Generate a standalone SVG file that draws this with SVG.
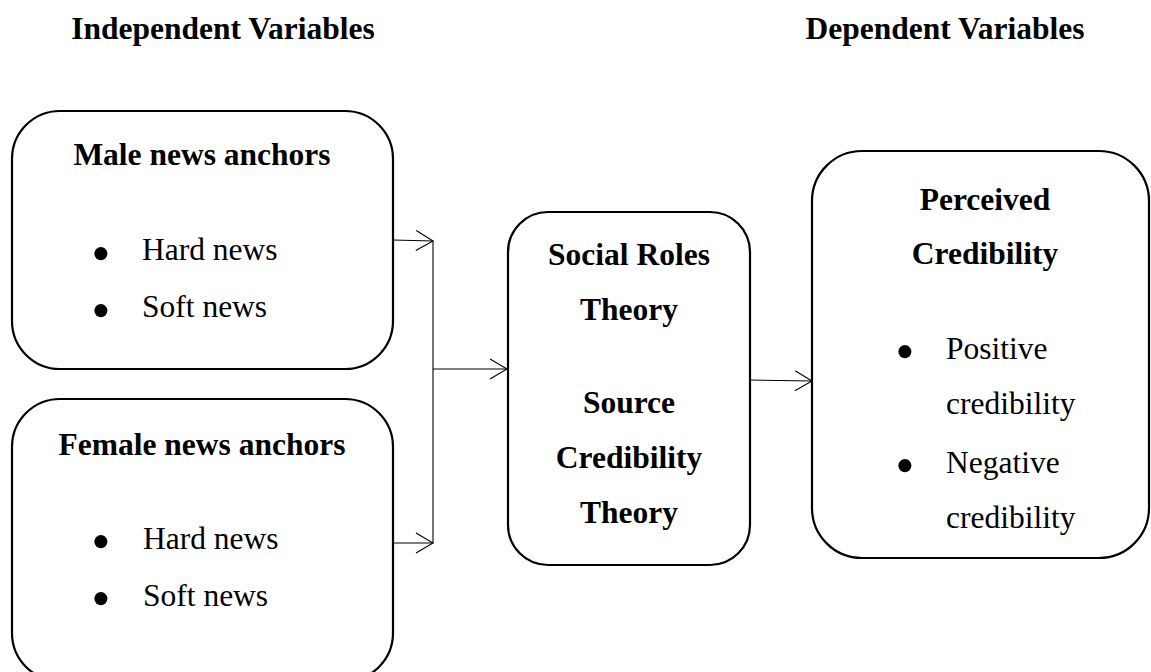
<svg xmlns="http://www.w3.org/2000/svg" width="1151" height="672" viewBox="0 0 1151 672">
<defs>
<marker id="arr" markerWidth="20" markerHeight="22" refX="18" refY="11" orient="auto" markerUnits="userSpaceOnUse">
<path d="M1,1 L18,11 L1,21" fill="none" stroke="#000" stroke-width="1.1"/>
</marker>
<style>
.box{fill:#fff;stroke:#000;stroke-width:2.2}
.con{fill:none;stroke:#000;stroke-width:1.1}
.b{font-family:"Liberation Serif","Times New Roman",serif;font-weight:bold;font-size:31.5px;fill:#000}
.r{font-family:"Liberation Serif","Times New Roman",serif;font-size:31.5px;fill:#000}
.bl{font-family:"Liberation Serif","Times New Roman",serif;font-size:55px;fill:#000}
.c{text-anchor:middle}
</style>
</defs>
<rect width="1151" height="672" fill="#fff"/>
<g id="titles">
<text class="b c" x="223" y="39">Independent Variables</text>
<text class="b c" x="945" y="39">Dependent Variables</text>
</g>
<g id="male">
<rect class="box" x="12" y="111" width="381" height="258" rx="48" ry="48"/>
<text class="b c" x="202" y="165">Male news anchors</text>
<text class="bl c" x="101" y="271.5">•</text>
<text class="r" x="142" y="260">Hard news</text>
<text class="bl c" x="101" y="328.5">•</text>
<text class="r" x="142" y="317">Soft news</text>
</g>
<g id="female">
<rect class="box" x="12" y="399" width="381" height="282" rx="48" ry="48"/>
<text class="b c" x="202" y="455">Female news anchors</text>
<text class="bl c" x="101" y="560">•</text>
<text class="r" x="143" y="548.5">Hard news</text>
<text class="bl c" x="101" y="617">•</text>
<text class="r" x="143" y="605.5">Soft news</text>
</g>
<g id="theory">
<rect class="box" x="508" y="212" width="242" height="353" rx="40" ry="40"/>
<text class="b c" x="629" y="265">Social Roles</text>
<text class="b c" x="629" y="320">Theory</text>
<text class="b c" x="629" y="413">Source</text>
<text class="b c" x="629" y="468">Credibility</text>
<text class="b c" x="629" y="523">Theory</text>
</g>
<g id="perceived">
<rect class="box" x="812" y="151" width="337" height="407" rx="50" ry="50"/>
<text class="b c" x="985" y="210">Perceived</text>
<text class="b c" x="985" y="264">Credibility</text>
<text class="bl c" x="905" y="370">•</text>
<text class="r" x="946" y="358.5">Positive</text>
<text class="r" x="946" y="413.5">credibility</text>
<text class="bl c" x="905" y="484">•</text>
<text class="r" x="946" y="472.5">Negative</text>
<text class="r" x="946" y="527.5">credibility</text>
</g>
<g id="connectors">
<line class="con" x1="393" y1="240" x2="433" y2="241" marker-end="url(#arr)"/>
<line class="con" x1="393" y1="543" x2="433" y2="543" marker-end="url(#arr)"/>
<line class="con" x1="433" y1="241" x2="433" y2="543"/>
<line class="con" x1="433" y1="369" x2="507" y2="369" marker-end="url(#arr)"/>
<line class="con" x1="750" y1="380" x2="812" y2="381" marker-end="url(#arr)"/>
</g>
</svg>
